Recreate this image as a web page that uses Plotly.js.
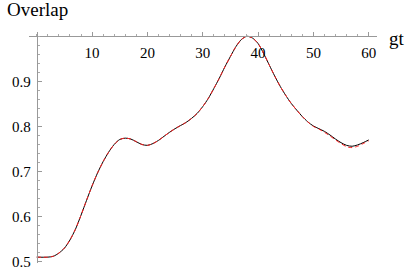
<!DOCTYPE html>
<html>
<head>
<meta charset="utf-8">
<script src="https://cdn.plot.ly/plotly-3.0.1.min.js"></script>
<style>html,body{margin:0;padding:0;background:#fff;}#chart{width:408px;height:273px;}</style>
</head>
<body>
<div id="chart"></div>
<script>
const gt = [0, 2, 3, 4, 5, 6, 7, 8, 9, 10, 11, 12, 13, 14, 15, 16, 17, 18, 19, 20, 21, 22, 23, 24, 25, 26, 27, 28, 29, 30, 31, 32, 33, 34, 35, 36, 37, 38, 39, 40, 41, 42, 43, 44, 45, 46, 47, 48, 49, 50, 51, 52, 53, 54, 55, 56, 57, 58, 59, 60];
const overlapExact = [0.510, 0.510, 0.512, 0.519, 0.530, 0.548, 0.572, 0.603, 0.636, 0.668, 0.697, 0.722, 0.743, 0.760, 0.771, 0.774, 0.772, 0.766, 0.760, 0.758, 0.762, 0.769, 0.778, 0.787, 0.795, 0.802, 0.809, 0.818, 0.829, 0.844, 0.862, 0.884, 0.907, 0.932, 0.955, 0.977, 0.993, 1.000, 0.996, 0.984, 0.962, 0.937, 0.912, 0.889, 0.869, 0.851, 0.836, 0.822, 0.810, 0.801, 0.795, 0.789, 0.781, 0.772, 0.764, 0.758, 0.756, 0.759, 0.764, 0.770];
const overlapApprox = [0.510, 0.510, 0.512, 0.519, 0.530, 0.548, 0.572, 0.603, 0.636, 0.668, 0.697, 0.722, 0.743, 0.760, 0.771, 0.774, 0.772, 0.766, 0.760, 0.758, 0.762, 0.769, 0.778, 0.787, 0.795, 0.802, 0.809, 0.818, 0.829, 0.844, 0.862, 0.884, 0.907, 0.932, 0.955, 0.977, 0.993, 1.000, 0.996, 0.984, 0.962, 0.937, 0.912, 0.889, 0.869, 0.851, 0.836, 0.822, 0.810, 0.800, 0.794, 0.787, 0.779, 0.770, 0.762, 0.755, 0.753, 0.756, 0.762, 0.768];
const xTicks = [10, 20, 30, 40, 50, 60];
const yTicks = [0.5, 0.6, 0.7, 0.8, 0.9];
const yTickText = ['0.5', '0.6', '0.7', '0.8', '0.9'];

const serif = 'Liberation Serif';
const traces = [
  {x: gt, y: overlapExact, mode: 'lines', line: {color: '#000000', width: 1, shape: 'spline', smoothing: 0.8}, hoverinfo: 'skip'},
  {x: gt, y: overlapApprox, mode: 'lines', line: {color: '#ff2020', width: 1, dash: '4px,3px', shape: 'spline', smoothing: 0.8}, hoverinfo: 'skip'}
];
const layout = {
  width: 408, height: 273,
  margin: {l: 29, r: 31.2, t: 31.7, b: 9.7},
  paper_bgcolor: '#fff', plot_bgcolor: '#fff',
  showlegend: false,
  font: {family: serif, size: 15, color: '#000'},
  title: {text: 'Overlap', x: 7/408, xanchor: 'left', xref: 'container', y: 1 - 3/273, yref: 'container', yanchor: 'top', font: {family: serif, size: 19, color: '#000'}},
  xaxis: {
    range: [-1.4, 61.5], anchor: 'free', position: 0.9815,
    showgrid: false, zeroline: false, showline: true, linecolor: '#999', linewidth: 1,
    tickvals: xTicks, ticktext: xTicks.map(String), ticks: 'inside', ticklen: 4, tickcolor: '#999', tickwidth: 1,
    minor: {dtick: 2, tick0: 0, ticks: 'inside', ticklen: 2, tickcolor: '#aaa', showgrid: false},
    tickfont: {family: serif, size: 15, color: '#000'}, ticklabelstandoff: 3
  },
  yaxis: {
    range: [0.497, 1.0095], anchor: 'free', position: 0.02226,
    showgrid: false, zeroline: false, showline: true, linecolor: '#999', linewidth: 1,
    tickvals: yTicks, ticktext: yTickText, ticks: 'inside', ticklen: 4, tickcolor: '#999', tickwidth: 1,
    minor: {dtick: 0.02, tick0: 0.5, ticks: 'inside', ticklen: 2, tickcolor: '#aaa', showgrid: false},
    tickfont: {family: serif, size: 15, color: '#000'}, ticklabelstandoff: 3
  },
  annotations: [
    {text: 'gt', xref: 'paper', yref: 'paper', x: (387 - 29)/347.8, y: (263.3 - 38)/231.6, xanchor: 'left', yanchor: 'middle', showarrow: false, font: {family: serif, size: 19, color: '#000'}}
  ]
};
Plotly.newPlot('chart', traces, layout, {staticPlot: true, displayModeBar: false});
</script>
</body>
</html>
